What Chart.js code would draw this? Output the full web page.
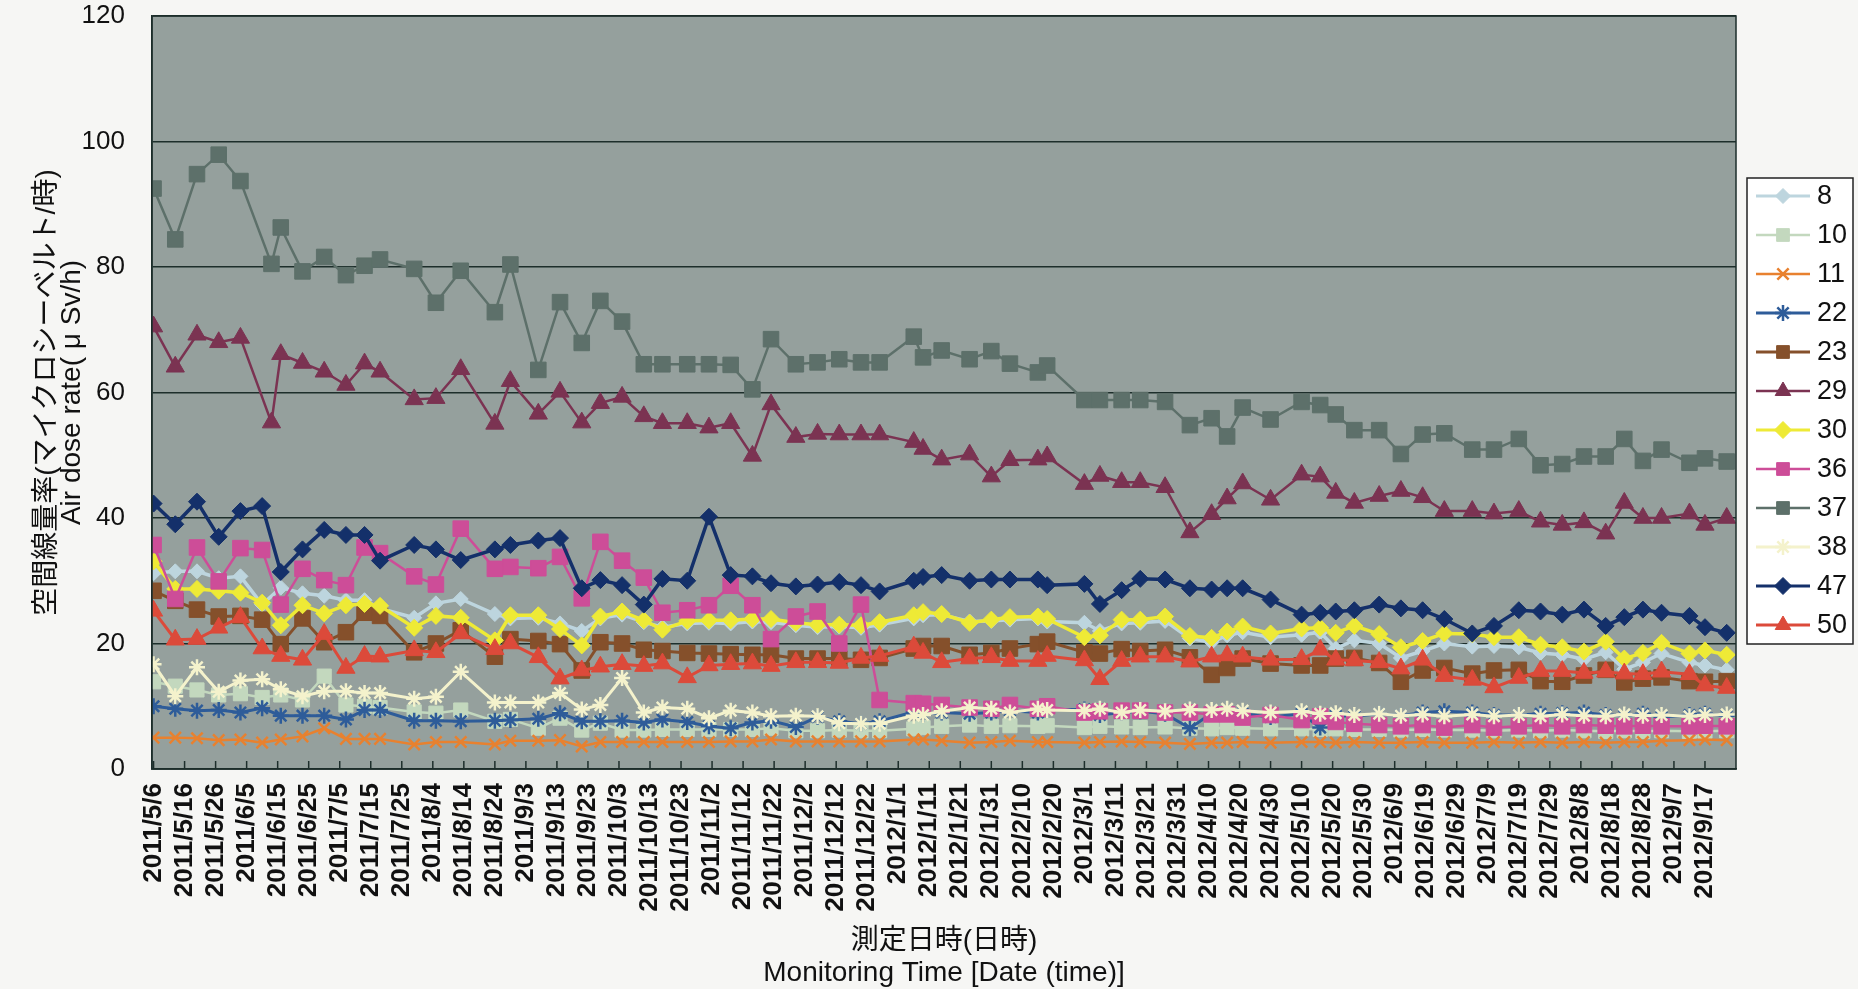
<!DOCTYPE html>
<html lang="ja">
<head>
<meta charset="utf-8">
<title>空間線量率の推移</title>
<script src="https://cdn.jsdelivr.net/npm/chart.js@4.4.1/dist/chart.umd.min.js"></script>
<style>
  html, body { margin: 0; padding: 0; background: #f6f6f4; }
  #wrap { width: 1858px; height: 989px; }
</style>
</head>
<body>
<div id="wrap"><canvas id="doseChart" width="1858" height="989"></canvas></div>
<script>
// Measurement days, counted from 2011/5/6 (day 0)
const days = [
    0,   7,  14,  21,  28,  35,  38,  41,  48,  55,
   62,  68,  73,  84,  91,  99, 110, 115, 124, 131,
  138, 144, 151, 158, 164, 172, 179, 186, 193, 199,
  207, 214, 221, 228, 234, 245, 248, 254, 263, 270,
  276, 285, 288, 300, 305, 312, 318, 326, 334, 341,
  346, 351, 360, 370, 376, 381, 387, 395, 402, 409,
  416, 425, 432, 440, 447, 454, 461, 468, 474, 480,
  486, 495, 500, 507
];

// Axis labels, one every 10 days
const tickLabels = [
  '2011/5/6', '2011/5/16', '2011/5/26', '2011/6/5', '2011/6/15', '2011/6/25',
  '2011/7/5', '2011/7/15', '2011/7/25', '2011/8/4', '2011/8/14', '2011/8/24',
  '2011/9/3', '2011/9/13', '2011/9/23', '2011/10/3', '2011/10/13', '2011/10/23',
  '2011/11/2', '2011/11/12', '2011/11/22', '2011/12/2', '2011/12/12', '2011/12/22',
  '2012/1/1', '2012/1/11', '2012/1/21', '2012/1/31', '2012/2/10', '2012/2/20',
  '2012/3/1', '2012/3/11', '2012/3/21', '2012/3/31', '2012/4/10', '2012/4/20',
  '2012/4/30', '2012/5/10', '2012/5/20', '2012/5/30', '2012/6/9', '2012/6/19',
  '2012/6/29', '2012/7/9', '2012/7/19', '2012/7/29', '2012/8/8', '2012/8/18',
  '2012/8/28', '2012/9/7', '2012/9/17'
];

const seriesNames = ['8', '10', '11', '22', '23', '29', '30', '36', '37', '38', '47', '50'];

// Air dose rate (μSv/h) per monitoring point, same order as days
const dose8 = [
  31.2, 31.5, 31.5, 30.4, 30.7, 26.2, null, 28.9, 28.0, 27.6,
  26.9, 26.9, 25.6, 24.1, 26.4, 27.1, 24.7, 24.0, 24.1, 23.2,
  22.0, 24.0, 24.6, 23.4, 22.6, 23.2, 23.3, 23.2, 23.5, 23.4,
  22.9, 22.6, 22.7, 22.5, 23.0, 24.0, 24.5, 24.6, 23.5, 23.6,
  23.8, 24.0, 23.5, 23.3, 22.0, 23.2, 23.3, 23.6, 20.8, 20.2,
  21.3, 21.8, 21.0, 21.4, 21.8, 19.2, 20.5, 20.0, 17.7, 18.8,
  20.0, 19.5, 19.6, 19.4, 18.5, 18.2, 17.5, 18.6, 15.9, 17.0,
  18.4, 17.0, 16.5, 15.8
];
const dose10 = [
  13.9, 13.2, 12.6, 11.8, 12.0, 11.4, null, 11.8, 11.0, 14.8,
  10.2, 10.0, 9.8, 9.1, 8.9, 9.4, 7.6, 7.9, 6.5, 8.1,
  6.2, 7.3, 6.2, 6.2, 6.3, 6.3, 6.3, 6.3, 6.3, 6.5,
  6.1, 6.1, 6.2, 6.1, 6.1, 6.4, 6.6, 6.8, 7.0, 6.8,
  6.9, 6.8, 6.9, 6.6, 6.8, 6.7, 6.6, 6.7, 6.5, 6.4,
  6.6, 6.5, 6.4, 6.4, 6.3, 6.4, 6.3, 6.3, 6.2, 6.3,
  6.2, 6.2, 6.1, 6.2, 6.1, 6.2, 6.1, 6.0, 6.1, 6.0,
  6.1, 6.0, 6.0, 6.1
];
const dose11 = [
  5.0, 5.0, 4.9, 4.6, 4.7, 4.2, null, 4.7, 5.2, 6.5,
  4.8, 4.8, 4.8, 3.9, 4.3, 4.3, 3.9, 4.5, 4.5, 4.6,
  3.6, 4.3, 4.3, 4.3, 4.3, 4.3, 4.3, 4.4, 4.4, 4.7,
  4.4, 4.4, 4.4, 4.4, 4.4, 4.7, 4.7, 4.5, 4.2, 4.3,
  4.5, 4.3, 4.3, 4.2, 4.3, 4.4, 4.3, 4.2, 4.0, 4.2,
  4.2, 4.3, 4.2, 4.3, 4.3, 4.2, 4.3, 4.2, 4.2, 4.3,
  4.2, 4.2, 4.3, 4.2, 4.3, 4.2, 4.3, 4.2, 4.3, 4.3,
  4.5, 4.6, 4.7, 4.6
];
const dose22 = [
  10.0, 9.6, 9.3, 9.4, 9.0, 9.7, null, 8.5, 8.5, 8.5,
  7.9, 9.4, 9.4, 7.7, 7.7, 7.6, 7.7, 7.8, 8.0, 8.9,
  7.6, 7.6, 7.7, 7.4, 7.9, 7.5, 6.8, 6.5, 7.4, 7.7,
  6.7, 8.3, 7.6, 7.2, 7.6, 9.1, 8.7, 9.0, 8.8, 9.0,
  9.3, 9.0, 9.5, 9.5, 8.6, 9.0, 9.2, 8.8, 6.5, 8.9,
  9.0, 8.8, 8.3, 8.8, 6.6, 8.5, 8.4, 8.8, 8.5, 9.0,
  9.2, 9.0, 8.6, 8.6, 8.8, 8.9, 9.0, 8.6, 8.5, 8.8,
  8.3, 8.6, 8.8, 8.5
];
const dose23 = [
  28.4, 26.8, 25.4, 24.3, 24.4, 23.8, null, 19.9, 24.0, 20.2,
  21.8, 24.9, 24.4, 18.6, 20.0, 22.1, 17.9, 20.7, 20.4, 19.9,
  15.7, 20.2, 20.0, 19.0, 18.8, 18.5, 18.4, 18.3, 18.2, 18.2,
  17.6, 17.6, 17.6, 17.4, 17.7, 19.2, 19.6, 19.6, 18.2, 18.5,
  19.2, 19.9, 20.3, 18.6, 18.4, 19.1, 18.8, 19.0, 17.8, 15.0,
  16.1, 17.6, 16.8, 16.5, 16.5, 17.6, 17.7, 16.9, 13.9, 15.7,
  16.1, 15.2, 15.7, 15.8, 14.0, 13.9, 14.9, 15.8, 13.8, 14.4,
  14.6, 14.0, 13.9, 14.0
];
const dose29 = [
  70.5, 64.1, 69.2, 68.0, 68.7, null, 55.2, 66.1, 64.7, 63.3,
  61.2, 64.6, 63.3, 58.9, 59.1, 63.7, 55.0, 61.8, 56.6, 60.1,
  55.2, 58.3, 59.3, 56.2, 55.1, 55.1, 54.4, 55.1, 49.9, 58.1,
  52.9, 53.4, 53.3, 53.3, 53.3, 52.1, 51.0, 49.3, 50.1, 46.6,
  49.2, 49.3, 49.8, 45.4, 46.7, 45.7, 45.7, 44.9, 37.7, 40.6,
  43.1, 45.5, 42.9, 46.9, 46.6, 44.0, 42.4, 43.5, 44.3, 43.3,
  41.1, 41.1, 40.7, 41.1, 39.4, 38.9, 39.3, 37.5, 42.4, 40.0,
  40.0, 40.7, 38.9, 40.0
];
const dose30 = [
  33.1, 28.7, 28.7, 28.4, 28.1, 26.5, null, 22.9, 26.1, 24.8,
  26.1, 26.3, 26.0, 22.5, 24.4, 24.1, 20.5, 24.5, 24.5, 22.3,
  19.7, 24.3, 25.1, 23.7, 22.2, 23.6, 23.7, 23.7, 23.9, 23.9,
  23.3, 23.0, 23.0, 22.9, 23.4, 24.5, 25.0, 24.7, 23.3, 23.8,
  24.2, 24.3, 23.9, 21.0, 21.3, 23.8, 23.8, 24.3, 21.2, 20.9,
  21.9, 22.7, 21.6, 22.4, 22.5, 21.7, 22.8, 21.5, 19.4, 20.4,
  21.6, 21.5, 21.0, 21.0, 19.8, 19.4, 18.7, 20.3, 17.6, 18.5,
  20.1, 18.4, 18.9, 18.2
];
const dose36 = [
  35.7, 27.1, 35.3, 29.9, 35.2, 34.9, null, 26.2, 31.9, 30.1,
  29.3, 35.3, 34.4, 30.7, 29.4, 38.3, 31.9, 32.2, 32.0, 33.8,
  27.2, 36.2, 33.2, 30.5, 24.9, 25.3, 26.1, 29.2, 26.1, 20.7,
  24.3, 25.1, 20.0, 26.2, 11.0, 10.5, 10.4, 10.2, 9.8, 9.6,
  10.2, 9.6, 10.0, 9.0, 9.2, 9.3, 9.3, 9.0, 9.0, 8.7,
  8.7, 8.2, 8.6, 7.8, 8.4, 7.5, 7.2, 7.0, 6.8, 7.0,
  6.6, 7.0, 6.6, 6.8, 7.0, 6.8, 7.0, 6.9, 6.8, 6.9,
  6.8, 6.8, 6.9, 6.8
];
const dose37 = [
  92.5, 84.4, 94.8, 97.9, 93.7, null, 80.5, 86.3, 79.3, 81.6,
  78.7, 80.2, 81.2, 79.7, 74.3, 79.4, 72.8, 80.4, 63.6, 74.4,
  67.9, 74.6, 71.3, 64.5, 64.5, 64.5, 64.5, 64.4, 60.5, 68.5,
  64.5, 64.8, 65.3, 64.8, 64.8, 68.9, 65.6, 66.7, 65.3, 66.6,
  64.6, 63.2, 64.3, 58.8, 58.8, 58.8, 58.8, 58.5, 54.8, 55.9,
  53.0, 57.6, 55.7, 58.5, 58.0, 56.5, 54.0, 54.0, 50.2, 53.3,
  53.5, 50.9, 50.9, 52.6, 48.4, 48.6, 49.8, 49.8, 52.6, 49.1,
  50.9, 48.8, 49.5, 49.0
];
const dose38 = [
  16.7, 11.6, 16.2, 12.3, 14.1, 14.3, null, 12.7, 11.6, 12.4,
  12.4, 12.1, 12.1, 11.2, 11.5, 15.5, 10.6, 10.6, 10.6, 12.1,
  9.5, 10.2, 14.5, 9.0, 9.8, 9.6, 8.1, 9.3, 9.0, 8.4,
  8.5, 8.4, 7.3, 7.2, 7.2, 8.5, 8.6, 9.2, 9.8, 9.6,
  9.0, 9.6, 9.4, 9.3, 9.6, 9.0, 9.4, 9.2, 9.5, 9.4,
  9.6, 9.3, 9.0, 9.2, 8.8, 8.9, 8.6, 8.8, 8.5, 8.7,
  8.4, 8.7, 8.4, 8.6, 8.4, 8.7, 8.5, 8.4, 8.7, 8.5,
  8.6, 8.4, 8.6, 8.7
];
const dose47 = [
  42.3, 39.0, 42.6, 37.0, 41.1, 41.9, null, 31.4, 35.0, 38.1,
  37.3, 37.3, 33.2, 35.7, 35.0, 33.3, 35.0, 35.7, 36.4, 36.8,
  28.8, 30.1, 29.3, 26.2, 30.3, 30.0, 40.2, 30.9, 30.7, 29.6,
  29.1, 29.4, 29.8, 29.3, 28.3, 30.0, 30.6, 30.9, 30.0, 30.2,
  30.2, 30.2, 29.3, 29.5, 26.3, 28.5, 30.3, 30.2, 28.8, 28.6,
  28.8, 28.8, 27.0, 24.6, 24.9, 25.1, 25.3, 26.2, 25.6, 25.3,
  23.9, 21.6, 22.8, 25.3, 25.1, 24.6, 25.4, 22.8, 24.2, 25.4,
  24.9, 24.4, 22.6, 21.7
];
const dose50 = [
  25.2, 20.6, 20.7, 22.5, 24.2, 19.2, null, 18.0, 17.4, 21.5,
  16.1, 18.0, 17.9, 18.9, 18.6, 21.6, 19.1, 20.0, 17.8, 14.4,
  15.7, 16.3, 16.7, 16.4, 16.8, 14.6, 16.5, 16.7, 16.8, 16.4,
  17.0, 17.0, 16.9, 17.7, 18.0, 19.5, 18.5, 17.0, 17.6, 17.8,
  17.2, 17.2, 18.0, 17.3, 14.3, 17.2, 17.9, 17.9, 17.1, 17.9,
  18.1, 17.9, 17.4, 17.5, 19.0, 17.4, 17.3, 17.0, 16.0, 17.4,
  14.8, 14.2, 13.0, 14.5, 15.6, 15.6, 15.3, 15.5, 15.2, 15.1,
  15.5, 15.1, 13.3, 12.9
];

const seriesValues = [dose8, dose10, dose11, dose22, dose23, dose29,
                      dose30, dose36, dose37, dose38, dose47, dose50];

// Line colour, marker shape and sizes for each series (Excel-like)
const seriesStyles = [
  { color: '#bdd5de', marker: 'rectRot',  radius: 7.5, line: 3.5, markerLine: 1 },
  { color: '#c3d8be', marker: 'rect',     radius: 10,  line: 2.5, markerLine: 1 },
  { color: '#e8812f', marker: 'crossRot', radius: 8,   line: 2.5, markerLine: 2.5 },
  { color: '#2e5c99', marker: 'star',     radius: 8,   line: 3,   markerLine: 2.5 },
  { color: '#85502b', marker: 'rect',     radius: 11,  line: 3,   markerLine: 1 },
  { color: '#7b3352', marker: 'triangle', radius: 10.5, line: 2.5, markerLine: 1 },
  { color: '#eeea36', marker: 'rectRot',  radius: 8.5, line: 3.5, markerLine: 1 },
  { color: '#cd4d98', marker: 'rect',     radius: 11,  line: 2.5, markerLine: 1 },
  { color: '#5d706a', marker: 'rect',     radius: 11,  line: 2.5, markerLine: 1 },
  { color: '#f4f2cc', marker: 'star',     radius: 8,   line: 3,   markerLine: 2.5 },
  { color: '#14306a', marker: 'rectRot',  radius: 8.5, line: 3.5, markerLine: 1 },
  { color: '#dc4a3a', marker: 'triangle', radius: 10.5, line: 3,  markerLine: 1 }
];

const fontFamily = '"Liberation Sans", "Noto Sans CJK JP", sans-serif';
const gridColor = '#1d2e2b';

// Build the datasets; later series are drawn on top like in Excel
const doseDatasets = seriesNames.map((name, i) => {
  const st = seriesStyles[i];
  return {
    label: name,
    data: days.map((d, j) => ({ x: d, y: seriesValues[i][j] })),
    borderColor: st.color,
    backgroundColor: st.color,
    borderWidth: st.line,
    pointStyle: st.marker,
    pointRadius: st.radius,
    pointBackgroundColor: st.color,
    pointBorderColor: st.color,
    pointBorderWidth: st.markerLine,
    spanGaps: true,
    order: seriesNames.length - i
  };
});

// Gray plot area, frame and inward tick marks
const plotFrame = {
  id: 'plotFrame',
  beforeDraw(chart) {
    const { ctx, chartArea } = chart;
    ctx.save();
    ctx.fillStyle = '#95a09d';
    ctx.fillRect(chartArea.left, chartArea.top, chartArea.width, chartArea.height);
    ctx.restore();
  },
  afterDatasetsDraw(chart) {
    const { ctx, chartArea, scales } = chart;
    ctx.save();
    ctx.strokeStyle = gridColor;
    ctx.lineWidth = 1.5;
    scales.x.ticks.forEach(t => {
      const px = scales.x.getPixelForValue(t.value);
      ctx.beginPath();
      ctx.moveTo(px, chartArea.bottom);
      ctx.lineTo(px, chartArea.bottom - 8);
      ctx.stroke();
    });
    ctx.strokeRect(chartArea.left, chartArea.top, chartArea.width, chartArea.height);
    ctx.restore();
  }
};

// Boxed legend on the right with line + marker samples
const sideLegend = {
  id: 'sideLegend',
  afterDraw(chart) {
    const ctx = chart.ctx;
    ctx.save();
    ctx.fillStyle = '#ffffff';
    ctx.fillRect(1747, 178, 106, 466);
    ctx.strokeStyle = '#222';
    ctx.lineWidth = 1.5;
    ctx.strokeRect(1747, 178, 106, 466);
    chart.data.datasets.forEach((ds, i) => {
      const y = 196 + i * 39;
      ctx.strokeStyle = ds.borderColor;
      ctx.fillStyle = ds.pointBackgroundColor;
      ctx.lineWidth = Math.min(ds.borderWidth, 3);
      ctx.beginPath();
      ctx.moveTo(1756, y);
      ctx.lineTo(1810, y);
      ctx.stroke();
      ctx.lineWidth = ds.pointBorderWidth;
      Chart.helpers.drawPoint(ctx, {
        pointStyle: ds.pointStyle,
        radius: Math.min(ds.pointRadius, 9),
        borderWidth: ds.pointBorderWidth,
        rotation: 0
      }, 1783, y);
      ctx.fillStyle = '#111';
      ctx.font = '27px ' + fontFamily;
      ctx.textAlign = 'left';
      ctx.textBaseline = 'middle';
      ctx.fillText(ds.label, 1817, y + 1);
    });
    ctx.restore();
  }
};

const ctx = document.getElementById('doseChart').getContext('2d');
const doseChart = new Chart(ctx, {
  type: 'line',
  data: { datasets: doseDatasets },
  options: {
    responsive: false,
    animation: false,
    events: [],
    layout: { padding: { left: 0, right: 122, top: 0, bottom: 0 } },
    plugins: {
      legend: { display: false },
      tooltip: { enabled: false }
    },
    scales: {
      x: {
        type: 'linear',
        min: -0.5,
        max: 510,
        afterBuildTicks: scale => {
          scale.ticks = tickLabels.map((_, i) => ({ value: i * 10 }));
        },
        afterFit: scale => { scale.height = 220; },
        ticks: {
          autoSkip: false,
          minRotation: 90,
          maxRotation: 90,
          padding: 14,
          color: '#111',
          font: { family: fontFamily, size: 26, weight: 'bold' },
          callback: v => tickLabels[Math.round(v / 10)]
        },
        grid: { display: false, drawTicks: false },
        border: { display: true, color: gridColor, width: 1.5 },
        title: {
          display: true,
          text: ['測定日時(日時)', 'Monitoring Time [Date (time)]'],
          color: '#111',
          font: { family: fontFamily, size: 28, lineHeight: '32px' },
          padding: { top: 0, bottom: 0 }
        }
      },
      y: {
        min: 0,
        max: 120,
        afterFit: scale => {
          // fixed axis width; keep only room for half of the top label
          scale.width = 152;
          scale.paddingTop = 16;
          scale.paddingBottom = 16;
        },
        ticks: {
          stepSize: 20,
          padding: 27,
          color: '#111',
          font: { family: fontFamily, size: 26 }
        },
        grid: { color: gridColor, lineWidth: 1.5, drawTicks: false },
        border: { display: true, color: gridColor, width: 1.5 },
        title: {
          display: true,
          text: ['空間線量率(マイクロシーベルト/時)', 'Air dose rate( μ Sv/h)'],
          color: '#111',
          font: { family: fontFamily, size: 28, lineHeight: '25px' },
          padding: { top: 35, bottom: 0 }
        }
      }
    }
  },
  plugins: [plotFrame, sideLegend]
});
</script>
</body>
</html>
